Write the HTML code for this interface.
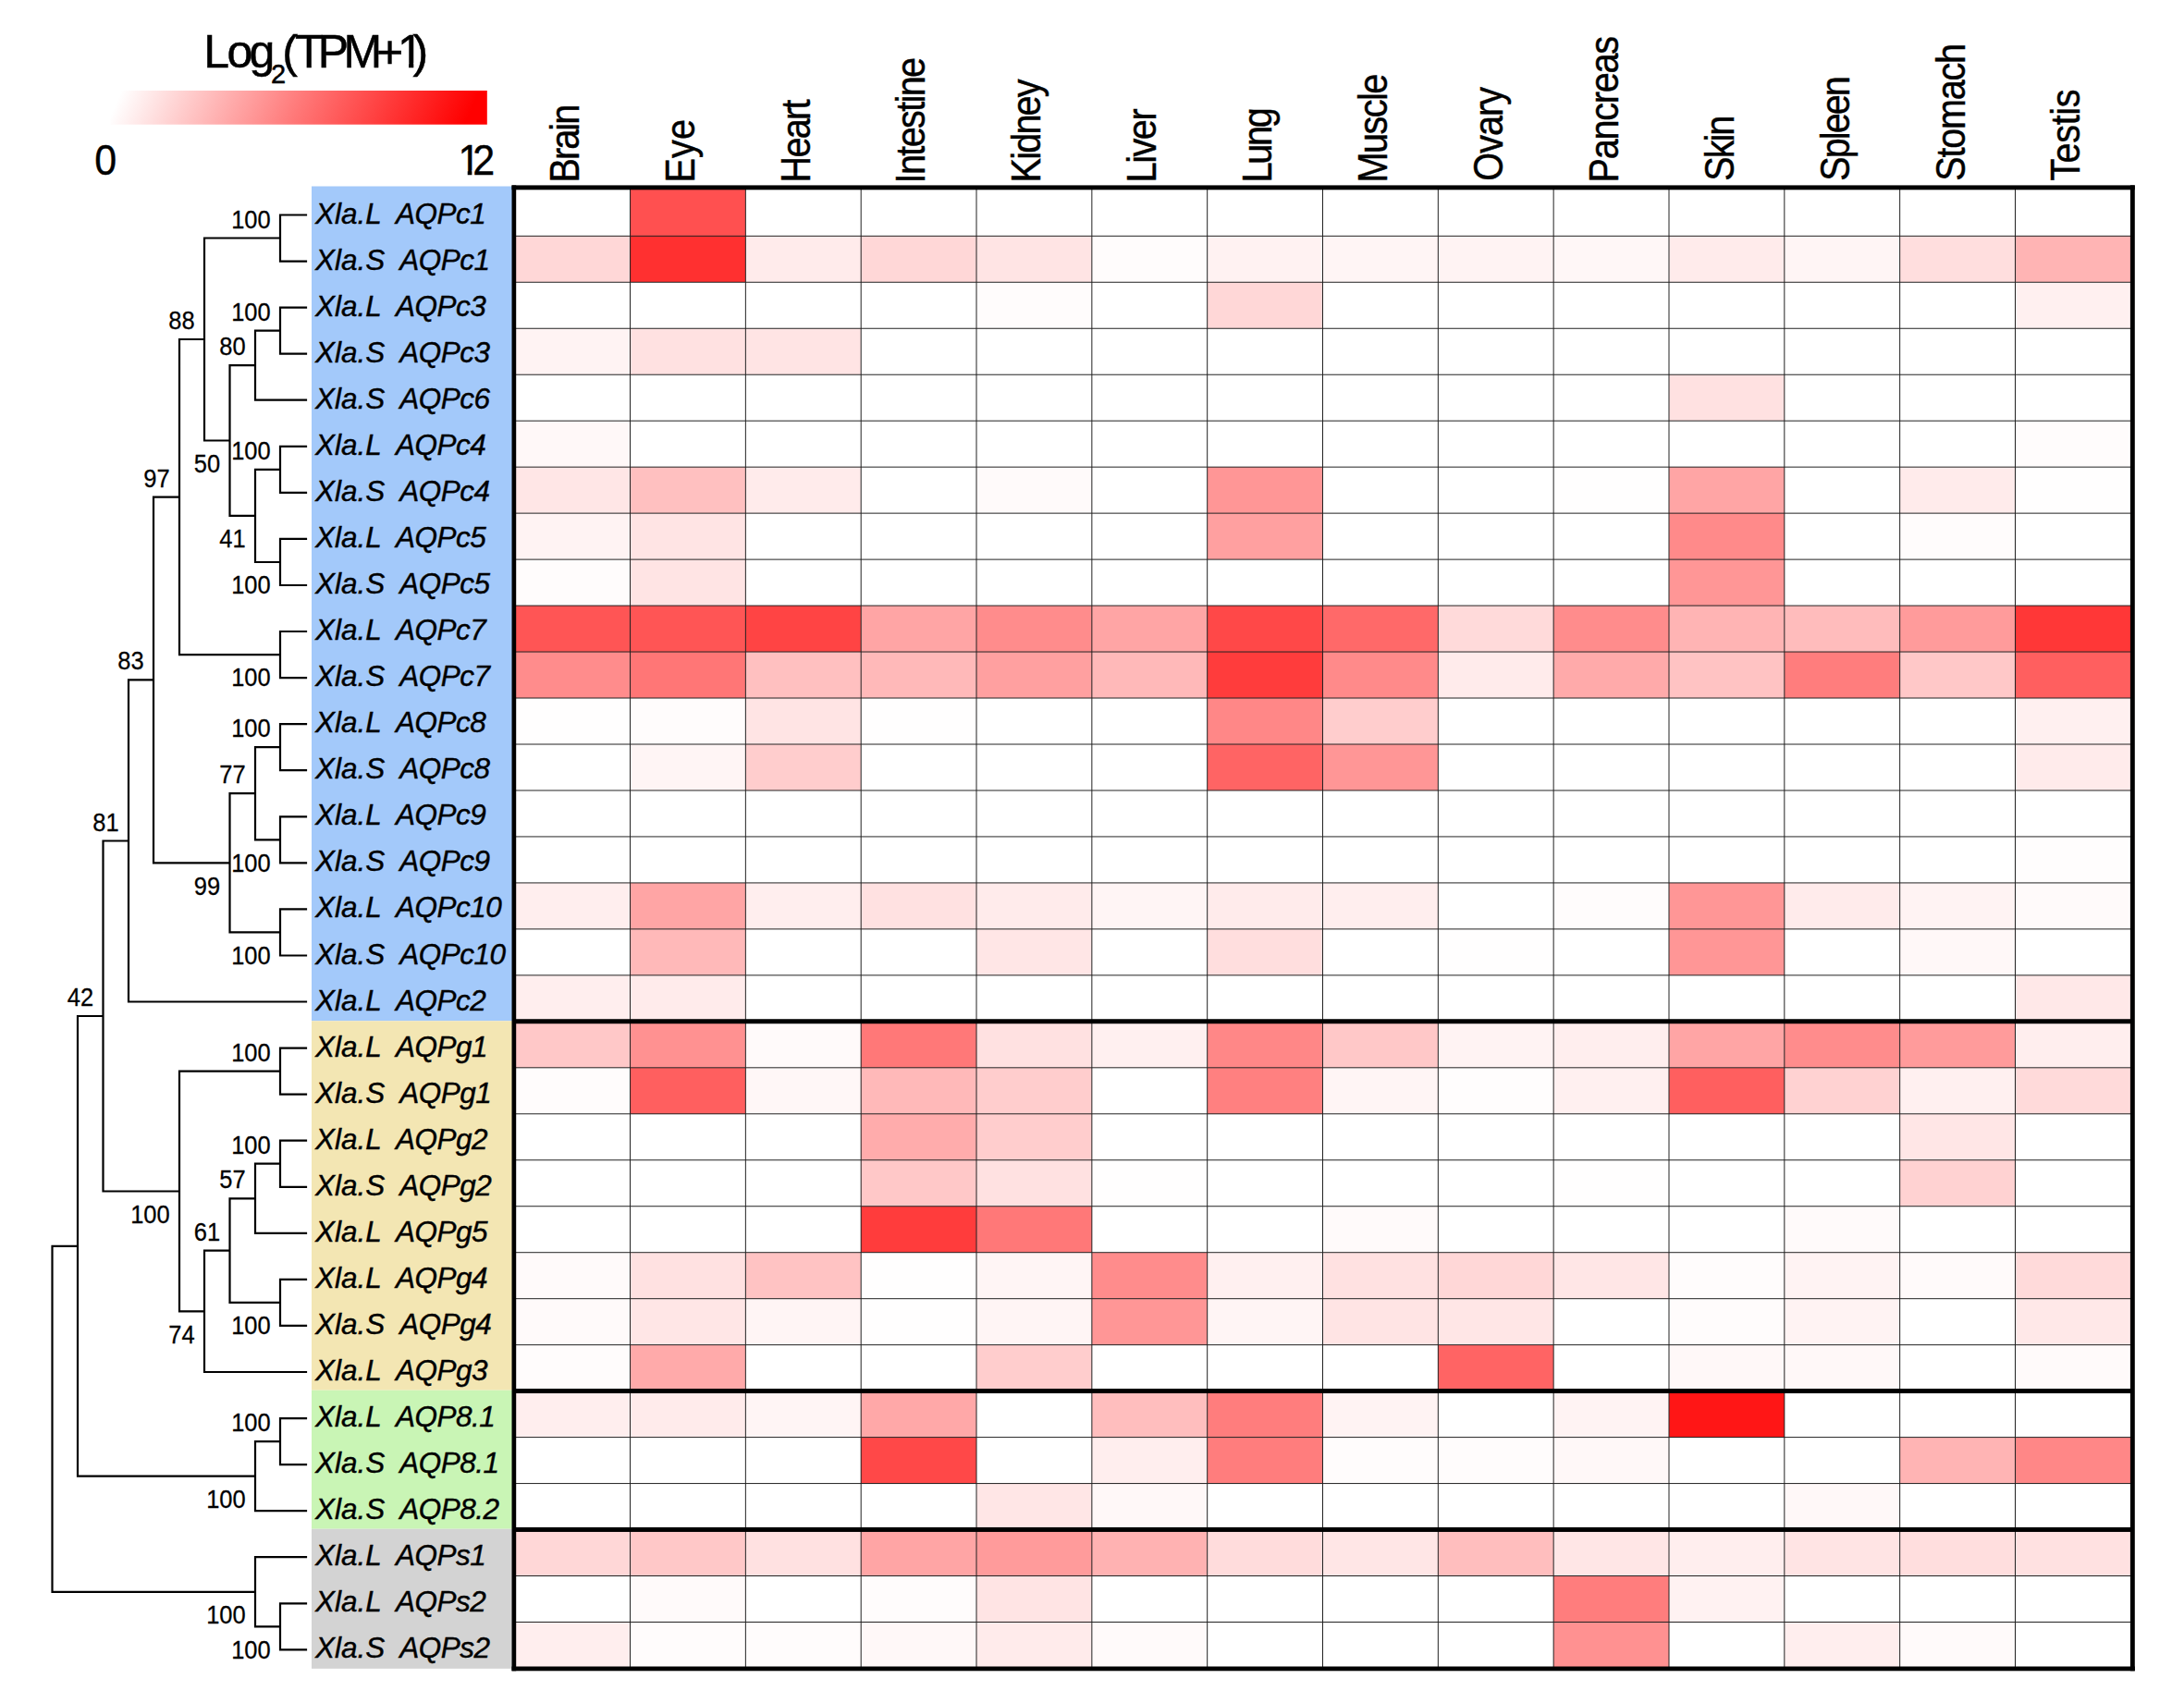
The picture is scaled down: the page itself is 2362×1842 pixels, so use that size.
<!DOCTYPE html>
<html lang="en"><head><meta charset="utf-8"><title>Xenopus laevis aquaporin expression heatmap</title>
<style>
html,body{margin:0;padding:0;background:#fff;}
body{width:2362px;height:1842px;overflow:hidden;}
svg{display:block;}
text{font-family:"Liberation Sans",sans-serif;fill:#000;}
.gene{font-style:italic;font-size:31.5px;word-spacing:7px;stroke:#000;stroke-width:0.4px;}
.boot{font-size:25.5px;text-anchor:end;stroke:#000;stroke-width:0.25px;}
.tissue{font-size:45px;stroke:#000;stroke-width:0.45px;}
.tree{fill:none;stroke:#000;stroke-width:2.2;stroke-linecap:square;stroke-linejoin:miter;}
.grid{stroke:#222;stroke-width:1;fill:none;}
</style></head><body>
<svg width="2362" height="1842" viewBox="0 0 2362 1842">
<defs><linearGradient id="lg" x1="0" y1="0.48" x2="1" y2="0.52"><stop offset="0.01" stop-color="#ffffff"/><stop offset="0.5" stop-color="#ff7878"/><stop offset="0.96" stop-color="#ff0000"/></linearGradient></defs>
<rect x="0" y="0" width="2362" height="1842" fill="#fff"/>
<g id="legend">
<rect x="119.6" y="98" width="407.2" height="36.7" fill="url(#lg)"/>
<g id="ttl" font-size="50" stroke="#000" stroke-width="0.5">
<text x="220.2 245.6 269.5" y="72.9">Log</text>
<text x="293" y="89.9" font-size="29">2</text>
<text x="305.2 319 343.7 371.4 407.1" y="72.9">(TPM+</text>
<text x="430.1" y="72.9">1</text>
<rect x="432" y="68.3" width="10.1" height="6" fill="#fff" stroke="none"/>
<rect x="447.3" y="68.3" width="10" height="6" fill="#fff" stroke="none"/>
<text x="446.6" y="72.9">)</text>
</g>
<text id="lo" transform="translate(102.2,188.7) scale(1,1.06)" font-size="43" stroke="#000" stroke-width="0.4">0</text>
<g id="hi" font-size="43" stroke="#000" stroke-width="0.4">
<text transform="translate(495.6,188.7) scale(1,1.06)">1</text>
<rect x="494" y="184.5" width="11.7" height="6" fill="#fff" stroke="none"/>
<rect x="510.4" y="184.5" width="9" height="6" fill="#fff" stroke="none"/>
<text transform="translate(511.3,188.7) scale(1,1.06)">2</text>
</g>
</g>
<g id="groups">
<rect x="337" y="201.5" width="219" height="902.8" fill="#a3c9fa"/>
<rect x="337" y="1104.3" width="219" height="399.4" fill="#f3e6b3"/>
<rect x="337" y="1503.7" width="219" height="150" fill="#c9f5b5"/>
<rect x="337" y="1653.7" width="219" height="151.1" fill="#d3d3d3"/>
</g>
<g id="cells" shape-rendering="crispEdges">
<rect x="681.53" y="205.33" width="124.83" height="49.97" fill="rgb(255,80,80)"/>
<rect x="556.70" y="255.30" width="124.83" height="49.97" fill="rgb(255,215,215)"/>
<rect x="681.53" y="255.30" width="124.83" height="49.97" fill="rgb(255,48,48)"/>
<rect x="806.36" y="255.30" width="124.83" height="49.97" fill="rgb(255,235,235)"/>
<rect x="931.19" y="255.30" width="124.83" height="49.97" fill="rgb(255,215,215)"/>
<rect x="1056.02" y="255.30" width="124.83" height="49.97" fill="rgb(255,228,228)"/>
<rect x="1180.85" y="255.30" width="124.83" height="49.97" fill="rgb(255,252,252)"/>
<rect x="1305.68" y="255.30" width="124.83" height="49.97" fill="rgb(255,242,242)"/>
<rect x="1430.51" y="255.30" width="124.83" height="49.97" fill="rgb(255,245,245)"/>
<rect x="1555.34" y="255.30" width="124.83" height="49.97" fill="rgb(255,243,243)"/>
<rect x="1680.17" y="255.30" width="124.83" height="49.97" fill="rgb(255,247,247)"/>
<rect x="1805.00" y="255.30" width="124.83" height="49.97" fill="rgb(255,235,235)"/>
<rect x="1929.83" y="255.30" width="124.83" height="49.97" fill="rgb(255,245,245)"/>
<rect x="2054.66" y="255.30" width="124.83" height="49.97" fill="rgb(255,222,222)"/>
<rect x="2179.49" y="255.30" width="124.83" height="49.97" fill="rgb(255,180,180)"/>
<rect x="1056.02" y="305.28" width="124.83" height="49.97" fill="rgb(255,252,252)"/>
<rect x="1305.68" y="305.28" width="124.83" height="49.97" fill="rgb(255,215,215)"/>
<rect x="2179.49" y="305.28" width="124.83" height="49.97" fill="rgb(255,240,240)"/>
<rect x="556.70" y="355.25" width="124.83" height="49.97" fill="rgb(255,243,243)"/>
<rect x="681.53" y="355.25" width="124.83" height="49.97" fill="rgb(255,225,225)"/>
<rect x="806.36" y="355.25" width="124.83" height="49.97" fill="rgb(255,228,228)"/>
<rect x="1805.00" y="405.22" width="124.83" height="49.97" fill="rgb(255,225,225)"/>
<rect x="556.70" y="455.20" width="124.83" height="49.97" fill="rgb(255,248,248)"/>
<rect x="2179.49" y="455.20" width="124.83" height="49.97" fill="rgb(255,252,252)"/>
<rect x="556.70" y="505.17" width="124.83" height="49.97" fill="rgb(255,230,230)"/>
<rect x="681.53" y="505.17" width="124.83" height="49.97" fill="rgb(255,192,192)"/>
<rect x="806.36" y="505.17" width="124.83" height="49.97" fill="rgb(255,235,235)"/>
<rect x="1056.02" y="505.17" width="124.83" height="49.97" fill="rgb(255,250,250)"/>
<rect x="1305.68" y="505.17" width="124.83" height="49.97" fill="rgb(255,150,150)"/>
<rect x="1680.17" y="505.17" width="124.83" height="49.97" fill="rgb(255,254,254)"/>
<rect x="1805.00" y="505.17" width="124.83" height="49.97" fill="rgb(255,165,165)"/>
<rect x="2054.66" y="505.17" width="124.83" height="49.97" fill="rgb(255,235,235)"/>
<rect x="2179.49" y="505.17" width="124.83" height="49.97" fill="rgb(255,254,254)"/>
<rect x="556.70" y="555.14" width="124.83" height="49.97" fill="rgb(255,243,243)"/>
<rect x="681.53" y="555.14" width="124.83" height="49.97" fill="rgb(255,228,228)"/>
<rect x="1305.68" y="555.14" width="124.83" height="49.97" fill="rgb(255,160,160)"/>
<rect x="1805.00" y="555.14" width="124.83" height="49.97" fill="rgb(255,138,138)"/>
<rect x="2054.66" y="555.14" width="124.83" height="49.97" fill="rgb(255,252,252)"/>
<rect x="556.70" y="605.11" width="124.83" height="49.97" fill="rgb(255,252,252)"/>
<rect x="681.53" y="605.11" width="124.83" height="49.97" fill="rgb(255,228,228)"/>
<rect x="1805.00" y="605.11" width="124.83" height="49.97" fill="rgb(255,150,150)"/>
<rect x="556.70" y="655.09" width="124.83" height="49.97" fill="rgb(255,85,85)"/>
<rect x="681.53" y="655.09" width="124.83" height="49.97" fill="rgb(255,85,85)"/>
<rect x="806.36" y="655.09" width="124.83" height="49.97" fill="rgb(255,68,68)"/>
<rect x="931.19" y="655.09" width="124.83" height="49.97" fill="rgb(255,165,165)"/>
<rect x="1056.02" y="655.09" width="124.83" height="49.97" fill="rgb(255,140,140)"/>
<rect x="1180.85" y="655.09" width="124.83" height="49.97" fill="rgb(255,165,165)"/>
<rect x="1305.68" y="655.09" width="124.83" height="49.97" fill="rgb(255,72,72)"/>
<rect x="1430.51" y="655.09" width="124.83" height="49.97" fill="rgb(255,105,105)"/>
<rect x="1555.34" y="655.09" width="124.83" height="49.97" fill="rgb(255,218,218)"/>
<rect x="1680.17" y="655.09" width="124.83" height="49.97" fill="rgb(255,140,140)"/>
<rect x="1805.00" y="655.09" width="124.83" height="49.97" fill="rgb(255,180,180)"/>
<rect x="1929.83" y="655.09" width="124.83" height="49.97" fill="rgb(255,188,188)"/>
<rect x="2054.66" y="655.09" width="124.83" height="49.97" fill="rgb(255,155,155)"/>
<rect x="2179.49" y="655.09" width="124.83" height="49.97" fill="rgb(255,55,55)"/>
<rect x="556.70" y="705.06" width="124.83" height="49.97" fill="rgb(255,140,140)"/>
<rect x="681.53" y="705.06" width="124.83" height="49.97" fill="rgb(255,118,118)"/>
<rect x="806.36" y="705.06" width="124.83" height="49.97" fill="rgb(255,192,192)"/>
<rect x="931.19" y="705.06" width="124.83" height="49.97" fill="rgb(255,185,185)"/>
<rect x="1056.02" y="705.06" width="124.83" height="49.97" fill="rgb(255,160,160)"/>
<rect x="1180.85" y="705.06" width="124.83" height="49.97" fill="rgb(255,185,185)"/>
<rect x="1305.68" y="705.06" width="124.83" height="49.97" fill="rgb(255,60,60)"/>
<rect x="1430.51" y="705.06" width="124.83" height="49.97" fill="rgb(255,138,138)"/>
<rect x="1555.34" y="705.06" width="124.83" height="49.97" fill="rgb(255,235,235)"/>
<rect x="1680.17" y="705.06" width="124.83" height="49.97" fill="rgb(255,170,170)"/>
<rect x="1805.00" y="705.06" width="124.83" height="49.97" fill="rgb(255,195,195)"/>
<rect x="1929.83" y="705.06" width="124.83" height="49.97" fill="rgb(255,125,125)"/>
<rect x="2054.66" y="705.06" width="124.83" height="49.97" fill="rgb(255,200,200)"/>
<rect x="2179.49" y="705.06" width="124.83" height="49.97" fill="rgb(255,95,95)"/>
<rect x="556.70" y="755.03" width="124.83" height="49.97" fill="rgb(255,254,254)"/>
<rect x="681.53" y="755.03" width="124.83" height="49.97" fill="rgb(255,252,252)"/>
<rect x="806.36" y="755.03" width="124.83" height="49.97" fill="rgb(255,228,228)"/>
<rect x="931.19" y="755.03" width="124.83" height="49.97" fill="rgb(255,254,254)"/>
<rect x="1305.68" y="755.03" width="124.83" height="49.97" fill="rgb(255,135,135)"/>
<rect x="1430.51" y="755.03" width="124.83" height="49.97" fill="rgb(255,205,205)"/>
<rect x="2179.49" y="755.03" width="124.83" height="49.97" fill="rgb(255,240,240)"/>
<rect x="681.53" y="805.01" width="124.83" height="49.97" fill="rgb(255,245,245)"/>
<rect x="806.36" y="805.01" width="124.83" height="49.97" fill="rgb(255,205,205)"/>
<rect x="1305.68" y="805.01" width="124.83" height="49.97" fill="rgb(255,100,100)"/>
<rect x="1430.51" y="805.01" width="124.83" height="49.97" fill="rgb(255,150,150)"/>
<rect x="2179.49" y="805.01" width="124.83" height="49.97" fill="rgb(255,235,235)"/>
<rect x="2179.49" y="904.95" width="124.83" height="49.97" fill="rgb(255,253,253)"/>
<rect x="556.70" y="954.93" width="124.83" height="49.97" fill="rgb(255,238,238)"/>
<rect x="681.53" y="954.93" width="124.83" height="49.97" fill="rgb(255,165,165)"/>
<rect x="806.36" y="954.93" width="124.83" height="49.97" fill="rgb(255,238,238)"/>
<rect x="931.19" y="954.93" width="124.83" height="49.97" fill="rgb(255,225,225)"/>
<rect x="1056.02" y="954.93" width="124.83" height="49.97" fill="rgb(255,235,235)"/>
<rect x="1180.85" y="954.93" width="124.83" height="49.97" fill="rgb(255,245,245)"/>
<rect x="1305.68" y="954.93" width="124.83" height="49.97" fill="rgb(255,235,235)"/>
<rect x="1430.51" y="954.93" width="124.83" height="49.97" fill="rgb(255,238,238)"/>
<rect x="1680.17" y="954.93" width="124.83" height="49.97" fill="rgb(255,252,252)"/>
<rect x="1805.00" y="954.93" width="124.83" height="49.97" fill="rgb(255,150,150)"/>
<rect x="1929.83" y="954.93" width="124.83" height="49.97" fill="rgb(255,235,235)"/>
<rect x="2054.66" y="954.93" width="124.83" height="49.97" fill="rgb(255,243,243)"/>
<rect x="2179.49" y="954.93" width="124.83" height="49.97" fill="rgb(255,250,250)"/>
<rect x="681.53" y="1004.90" width="124.83" height="49.97" fill="rgb(255,185,185)"/>
<rect x="1056.02" y="1004.90" width="124.83" height="49.97" fill="rgb(255,230,230)"/>
<rect x="1305.68" y="1004.90" width="124.83" height="49.97" fill="rgb(255,222,222)"/>
<rect x="1555.34" y="1004.90" width="124.83" height="49.97" fill="rgb(255,254,254)"/>
<rect x="1805.00" y="1004.90" width="124.83" height="49.97" fill="rgb(255,150,150)"/>
<rect x="2054.66" y="1004.90" width="124.83" height="49.97" fill="rgb(255,248,248)"/>
<rect x="556.70" y="1054.87" width="124.83" height="49.97" fill="rgb(255,238,238)"/>
<rect x="681.53" y="1054.87" width="124.83" height="49.97" fill="rgb(255,235,235)"/>
<rect x="2179.49" y="1054.87" width="124.83" height="49.97" fill="rgb(255,232,232)"/>
<rect x="556.70" y="1104.84" width="124.83" height="49.97" fill="rgb(255,200,200)"/>
<rect x="681.53" y="1104.84" width="124.83" height="49.97" fill="rgb(255,145,145)"/>
<rect x="806.36" y="1104.84" width="124.83" height="49.97" fill="rgb(255,250,250)"/>
<rect x="931.19" y="1104.84" width="124.83" height="49.97" fill="rgb(255,120,120)"/>
<rect x="1056.02" y="1104.84" width="124.83" height="49.97" fill="rgb(255,225,225)"/>
<rect x="1180.85" y="1104.84" width="124.83" height="49.97" fill="rgb(255,240,240)"/>
<rect x="1305.68" y="1104.84" width="124.83" height="49.97" fill="rgb(255,135,135)"/>
<rect x="1430.51" y="1104.84" width="124.83" height="49.97" fill="rgb(255,200,200)"/>
<rect x="1555.34" y="1104.84" width="124.83" height="49.97" fill="rgb(255,243,243)"/>
<rect x="1680.17" y="1104.84" width="124.83" height="49.97" fill="rgb(255,238,238)"/>
<rect x="1805.00" y="1104.84" width="124.83" height="49.97" fill="rgb(255,165,165)"/>
<rect x="1929.83" y="1104.84" width="124.83" height="49.97" fill="rgb(255,140,140)"/>
<rect x="2054.66" y="1104.84" width="124.83" height="49.97" fill="rgb(255,155,155)"/>
<rect x="2179.49" y="1104.84" width="124.83" height="49.97" fill="rgb(255,238,238)"/>
<rect x="556.70" y="1154.82" width="124.83" height="49.97" fill="rgb(255,252,252)"/>
<rect x="681.53" y="1154.82" width="124.83" height="49.97" fill="rgb(255,95,95)"/>
<rect x="806.36" y="1154.82" width="124.83" height="49.97" fill="rgb(255,247,247)"/>
<rect x="931.19" y="1154.82" width="124.83" height="49.97" fill="rgb(255,185,185)"/>
<rect x="1056.02" y="1154.82" width="124.83" height="49.97" fill="rgb(255,205,205)"/>
<rect x="1305.68" y="1154.82" width="124.83" height="49.97" fill="rgb(255,128,128)"/>
<rect x="1430.51" y="1154.82" width="124.83" height="49.97" fill="rgb(255,245,245)"/>
<rect x="1555.34" y="1154.82" width="124.83" height="49.97" fill="rgb(255,253,253)"/>
<rect x="1680.17" y="1154.82" width="124.83" height="49.97" fill="rgb(255,240,240)"/>
<rect x="1805.00" y="1154.82" width="124.83" height="49.97" fill="rgb(255,95,95)"/>
<rect x="1929.83" y="1154.82" width="124.83" height="49.97" fill="rgb(255,210,210)"/>
<rect x="2054.66" y="1154.82" width="124.83" height="49.97" fill="rgb(255,240,240)"/>
<rect x="2179.49" y="1154.82" width="124.83" height="49.97" fill="rgb(255,218,218)"/>
<rect x="931.19" y="1204.79" width="124.83" height="49.97" fill="rgb(255,172,172)"/>
<rect x="1056.02" y="1204.79" width="124.83" height="49.97" fill="rgb(255,205,205)"/>
<rect x="2054.66" y="1204.79" width="124.83" height="49.97" fill="rgb(255,230,230)"/>
<rect x="931.19" y="1254.76" width="124.83" height="49.97" fill="rgb(255,200,200)"/>
<rect x="1056.02" y="1254.76" width="124.83" height="49.97" fill="rgb(255,225,225)"/>
<rect x="1180.85" y="1254.76" width="124.83" height="49.97" fill="rgb(255,254,254)"/>
<rect x="1680.17" y="1254.76" width="124.83" height="49.97" fill="rgb(255,254,254)"/>
<rect x="2054.66" y="1254.76" width="124.83" height="49.97" fill="rgb(255,210,210)"/>
<rect x="931.19" y="1304.74" width="124.83" height="49.97" fill="rgb(255,60,60)"/>
<rect x="1056.02" y="1304.74" width="124.83" height="49.97" fill="rgb(255,120,120)"/>
<rect x="1430.51" y="1304.74" width="124.83" height="49.97" fill="rgb(255,250,250)"/>
<rect x="1929.83" y="1304.74" width="124.83" height="49.97" fill="rgb(255,250,250)"/>
<rect x="556.70" y="1354.71" width="124.83" height="49.97" fill="rgb(255,250,250)"/>
<rect x="681.53" y="1354.71" width="124.83" height="49.97" fill="rgb(255,225,225)"/>
<rect x="806.36" y="1354.71" width="124.83" height="49.97" fill="rgb(255,195,195)"/>
<rect x="931.19" y="1354.71" width="124.83" height="49.97" fill="rgb(255,254,254)"/>
<rect x="1056.02" y="1354.71" width="124.83" height="49.97" fill="rgb(255,245,245)"/>
<rect x="1180.85" y="1354.71" width="124.83" height="49.97" fill="rgb(255,140,140)"/>
<rect x="1305.68" y="1354.71" width="124.83" height="49.97" fill="rgb(255,240,240)"/>
<rect x="1430.51" y="1354.71" width="124.83" height="49.97" fill="rgb(255,225,225)"/>
<rect x="1555.34" y="1354.71" width="124.83" height="49.97" fill="rgb(255,215,215)"/>
<rect x="1680.17" y="1354.71" width="124.83" height="49.97" fill="rgb(255,230,230)"/>
<rect x="1805.00" y="1354.71" width="124.83" height="49.97" fill="rgb(255,252,252)"/>
<rect x="1929.83" y="1354.71" width="124.83" height="49.97" fill="rgb(255,243,243)"/>
<rect x="2054.66" y="1354.71" width="124.83" height="49.97" fill="rgb(255,250,250)"/>
<rect x="2179.49" y="1354.71" width="124.83" height="49.97" fill="rgb(255,218,218)"/>
<rect x="556.70" y="1404.68" width="124.83" height="49.97" fill="rgb(255,250,250)"/>
<rect x="681.53" y="1404.68" width="124.83" height="49.97" fill="rgb(255,230,230)"/>
<rect x="806.36" y="1404.68" width="124.83" height="49.97" fill="rgb(255,245,245)"/>
<rect x="931.19" y="1404.68" width="124.83" height="49.97" fill="rgb(255,254,254)"/>
<rect x="1056.02" y="1404.68" width="124.83" height="49.97" fill="rgb(255,245,245)"/>
<rect x="1180.85" y="1404.68" width="124.83" height="49.97" fill="rgb(255,150,150)"/>
<rect x="1305.68" y="1404.68" width="124.83" height="49.97" fill="rgb(255,245,245)"/>
<rect x="1430.51" y="1404.68" width="124.83" height="49.97" fill="rgb(255,228,228)"/>
<rect x="1555.34" y="1404.68" width="124.83" height="49.97" fill="rgb(255,230,230)"/>
<rect x="1805.00" y="1404.68" width="124.83" height="49.97" fill="rgb(255,252,252)"/>
<rect x="1929.83" y="1404.68" width="124.83" height="49.97" fill="rgb(255,243,243)"/>
<rect x="2179.49" y="1404.68" width="124.83" height="49.97" fill="rgb(255,232,232)"/>
<rect x="556.70" y="1454.65" width="124.83" height="49.97" fill="rgb(255,252,252)"/>
<rect x="681.53" y="1454.65" width="124.83" height="49.97" fill="rgb(255,170,170)"/>
<rect x="1056.02" y="1454.65" width="124.83" height="49.97" fill="rgb(255,205,205)"/>
<rect x="1555.34" y="1454.65" width="124.83" height="49.97" fill="rgb(255,100,100)"/>
<rect x="1805.00" y="1454.65" width="124.83" height="49.97" fill="rgb(255,248,248)"/>
<rect x="1929.83" y="1454.65" width="124.83" height="49.97" fill="rgb(255,248,248)"/>
<rect x="2179.49" y="1454.65" width="124.83" height="49.97" fill="rgb(255,250,250)"/>
<rect x="556.70" y="1504.63" width="124.83" height="49.97" fill="rgb(255,238,238)"/>
<rect x="681.53" y="1504.63" width="124.83" height="49.97" fill="rgb(255,235,235)"/>
<rect x="806.36" y="1504.63" width="124.83" height="49.97" fill="rgb(255,245,245)"/>
<rect x="931.19" y="1504.63" width="124.83" height="49.97" fill="rgb(255,168,168)"/>
<rect x="1180.85" y="1504.63" width="124.83" height="49.97" fill="rgb(255,190,190)"/>
<rect x="1305.68" y="1504.63" width="124.83" height="49.97" fill="rgb(255,125,125)"/>
<rect x="1430.51" y="1504.63" width="124.83" height="49.97" fill="rgb(255,243,243)"/>
<rect x="1680.17" y="1504.63" width="124.83" height="49.97" fill="rgb(255,243,243)"/>
<rect x="1805.00" y="1504.63" width="124.83" height="49.97" fill="rgb(255,22,22)"/>
<rect x="931.19" y="1554.60" width="124.83" height="49.97" fill="rgb(255,72,72)"/>
<rect x="1180.85" y="1554.60" width="124.83" height="49.97" fill="rgb(255,238,238)"/>
<rect x="1305.68" y="1554.60" width="124.83" height="49.97" fill="rgb(255,125,125)"/>
<rect x="1430.51" y="1554.60" width="124.83" height="49.97" fill="rgb(255,252,252)"/>
<rect x="1555.34" y="1554.60" width="124.83" height="49.97" fill="rgb(255,252,252)"/>
<rect x="1680.17" y="1554.60" width="124.83" height="49.97" fill="rgb(255,248,248)"/>
<rect x="2054.66" y="1554.60" width="124.83" height="49.97" fill="rgb(255,180,180)"/>
<rect x="2179.49" y="1554.60" width="124.83" height="49.97" fill="rgb(255,135,135)"/>
<rect x="1056.02" y="1604.57" width="124.83" height="49.97" fill="rgb(255,230,230)"/>
<rect x="1180.85" y="1604.57" width="124.83" height="49.97" fill="rgb(255,248,248)"/>
<rect x="1929.83" y="1604.57" width="124.83" height="49.97" fill="rgb(255,248,248)"/>
<rect x="556.70" y="1654.55" width="124.83" height="49.97" fill="rgb(255,215,215)"/>
<rect x="681.53" y="1654.55" width="124.83" height="49.97" fill="rgb(255,200,200)"/>
<rect x="806.36" y="1654.55" width="124.83" height="49.97" fill="rgb(255,225,225)"/>
<rect x="931.19" y="1654.55" width="124.83" height="49.97" fill="rgb(255,165,165)"/>
<rect x="1056.02" y="1654.55" width="124.83" height="49.97" fill="rgb(255,155,155)"/>
<rect x="1180.85" y="1654.55" width="124.83" height="49.97" fill="rgb(255,178,178)"/>
<rect x="1305.68" y="1654.55" width="124.83" height="49.97" fill="rgb(255,220,220)"/>
<rect x="1430.51" y="1654.55" width="124.83" height="49.97" fill="rgb(255,230,230)"/>
<rect x="1555.34" y="1654.55" width="124.83" height="49.97" fill="rgb(255,190,190)"/>
<rect x="1680.17" y="1654.55" width="124.83" height="49.97" fill="rgb(255,230,230)"/>
<rect x="1805.00" y="1654.55" width="124.83" height="49.97" fill="rgb(255,238,238)"/>
<rect x="1929.83" y="1654.55" width="124.83" height="49.97" fill="rgb(255,228,228)"/>
<rect x="2054.66" y="1654.55" width="124.83" height="49.97" fill="rgb(255,222,222)"/>
<rect x="2179.49" y="1654.55" width="124.83" height="49.97" fill="rgb(255,225,225)"/>
<rect x="681.53" y="1704.52" width="124.83" height="49.97" fill="rgb(255,250,250)"/>
<rect x="931.19" y="1704.52" width="124.83" height="49.97" fill="rgb(255,252,252)"/>
<rect x="1056.02" y="1704.52" width="124.83" height="49.97" fill="rgb(255,228,228)"/>
<rect x="1680.17" y="1704.52" width="124.83" height="49.97" fill="rgb(255,125,125)"/>
<rect x="1805.00" y="1704.52" width="124.83" height="49.97" fill="rgb(255,242,242)"/>
<rect x="556.70" y="1754.49" width="124.83" height="49.97" fill="rgb(255,238,238)"/>
<rect x="681.53" y="1754.49" width="124.83" height="49.97" fill="rgb(255,252,252)"/>
<rect x="806.36" y="1754.49" width="124.83" height="49.97" fill="rgb(255,252,252)"/>
<rect x="931.19" y="1754.49" width="124.83" height="49.97" fill="rgb(255,248,248)"/>
<rect x="1056.02" y="1754.49" width="124.83" height="49.97" fill="rgb(255,235,235)"/>
<rect x="1180.85" y="1754.49" width="124.83" height="49.97" fill="rgb(255,250,250)"/>
<rect x="1680.17" y="1754.49" width="124.83" height="49.97" fill="rgb(255,145,145)"/>
<rect x="1929.83" y="1754.49" width="124.83" height="49.97" fill="rgb(255,238,238)"/>
<rect x="2054.66" y="1754.49" width="124.83" height="49.97" fill="rgb(255,250,250)"/>
</g>
<g id="grid" class="grid">
<path d="M681.53 203V1805M806.36 203V1805M931.19 203V1805M1056.02 203V1805M1180.85 203V1805M1305.68 203V1805M1430.51 203V1805M1555.34 203V1805M1680.17 203V1805M1805.00 203V1805M1929.83 203V1805M2054.66 203V1805M2179.49 203V1805M556 255.30H2306M556 305.28H2306M556 355.25H2306M556 405.22H2306M556 455.20H2306M556 505.17H2306M556 555.14H2306M556 605.11H2306M556 655.09H2306M556 705.06H2306M556 755.03H2306M556 805.01H2306M556 854.98H2306M556 904.95H2306M556 954.93H2306M556 1004.90H2306M556 1054.87H2306M556 1104.84H2306M556 1154.82H2306M556 1204.79H2306M556 1254.76H2306M556 1304.74H2306M556 1354.71H2306M556 1404.68H2306M556 1454.65H2306M556 1504.63H2306M556 1554.60H2306M556 1604.57H2306M556 1654.55H2306M556 1704.52H2306M556 1754.49H2306"/>
</g>
<g id="frame" fill="#000">
<rect x="553.5" y="200.4" width="1755.3" height="4.9"/>
<rect x="553.5" y="1802.5" width="1755.3" height="4.8"/>
<rect x="553.5" y="200.4" width="4.7" height="1606.9"/>
<rect x="2303.9" y="200.4" width="4.9" height="1606.9"/>
<rect x="556" y="1102.24" width="1750" height="5"/>
<rect x="556" y="1502.03" width="1750" height="5"/>
<rect x="556" y="1651.95" width="1750" height="5"/>
</g>
<g id="tissues">
<text class="tissue" id="t0" transform="translate(625.7,197.4) rotate(-90) scale(0.88,1)" letter-spacing="-2.23">Brain</text>
<text class="tissue" id="t1" transform="translate(750.6,197.4) rotate(-90) scale(0.88,1)" letter-spacing="0.13">Eye</text>
<text class="tissue" id="t2" transform="translate(875.5,197.4) rotate(-90) scale(0.88,1)" letter-spacing="-1.95">Heart</text>
<text class="tissue" id="t3" transform="translate(1000.4,198.4) rotate(-90) scale(0.88,1)" letter-spacing="-1.87">Intestine</text>
<text class="tissue" id="t4" transform="translate(1125.3,197.4) rotate(-90) scale(0.88,1)" letter-spacing="-2.05">Kidney</text>
<text class="tissue" id="t5" transform="translate(1250.2,197.4) rotate(-90) scale(0.88,1)" letter-spacing="-1.66">Liver</text>
<text class="tissue" id="t6" transform="translate(1375.1,197.4) rotate(-90) scale(0.88,1)" letter-spacing="-2.59">Lung</text>
<text class="tissue" id="t7" transform="translate(1500.0,197.4) rotate(-90) scale(0.88,1)" letter-spacing="-1.75">Muscle</text>
<text class="tissue" id="t8" transform="translate(1624.9,195.7) rotate(-90) scale(0.88,1)" letter-spacing="-1.09">Ovary</text>
<text class="tissue" id="t9" transform="translate(1749.8,197.4) rotate(-90) scale(0.88,1)" letter-spacing="-1.41">Pancreas</text>
<text class="tissue" id="t10" transform="translate(1874.7,195.7) rotate(-90) scale(0.88,1)" letter-spacing="-2.30">Skin</text>
<text class="tissue" id="t11" transform="translate(1999.6,195.7) rotate(-90) scale(0.88,1)" letter-spacing="-2.23">Spleen</text>
<text class="tissue" id="t12" transform="translate(2124.5,195.7) rotate(-90) scale(0.88,1)" letter-spacing="-1.43">Stomach</text>
<text class="tissue" id="t13" transform="translate(2249.4,195.8) rotate(-90) scale(0.88,1)" letter-spacing="-0.42">Testis</text>
</g>
<g id="genes">
<text class="gene" id="g0" x="341.1" y="241.5">Xla.L <tspan letter-spacing="-0.5">AQPc1</tspan></text>
<text class="gene" id="g1" x="341.1" y="291.6">Xla.S <tspan letter-spacing="-0.5">AQPc1</tspan></text>
<text class="gene" id="g2" x="341.1" y="341.6">Xla.L <tspan letter-spacing="-0.5">AQPc3</tspan></text>
<text class="gene" id="g3" x="341.1" y="391.7">Xla.S <tspan letter-spacing="-0.5">AQPc3</tspan></text>
<text class="gene" id="g4" x="341.1" y="441.7">Xla.S <tspan letter-spacing="-0.5">AQPc6</tspan></text>
<text class="gene" id="g5" x="341.1" y="491.8">Xla.L <tspan letter-spacing="-0.5">AQPc4</tspan></text>
<text class="gene" id="g6" x="341.1" y="541.9">Xla.S <tspan letter-spacing="-0.5">AQPc4</tspan></text>
<text class="gene" id="g7" x="341.1" y="591.9">Xla.L <tspan letter-spacing="-0.5">AQPc5</tspan></text>
<text class="gene" id="g8" x="341.1" y="642.0">Xla.S <tspan letter-spacing="-0.5">AQPc5</tspan></text>
<text class="gene" id="g9" x="341.1" y="692.0">Xla.L <tspan letter-spacing="-0.5">AQPc7</tspan></text>
<text class="gene" id="g10" x="341.1" y="742.1">Xla.S <tspan letter-spacing="-0.5">AQPc7</tspan></text>
<text class="gene" id="g11" x="341.1" y="792.2">Xla.L <tspan letter-spacing="-0.5">AQPc8</tspan></text>
<text class="gene" id="g12" x="341.1" y="842.2">Xla.S <tspan letter-spacing="-0.5">AQPc8</tspan></text>
<text class="gene" id="g13" x="341.1" y="892.3">Xla.L <tspan letter-spacing="-0.5">AQPc9</tspan></text>
<text class="gene" id="g14" x="341.1" y="942.3">Xla.S <tspan letter-spacing="-0.5">AQPc9</tspan></text>
<text class="gene" id="g15" x="341.1" y="992.4">Xla.L <tspan letter-spacing="-0.5">AQPc10</tspan></text>
<text class="gene" id="g16" x="341.1" y="1042.5">Xla.S <tspan letter-spacing="-0.5">AQPc10</tspan></text>
<text class="gene" id="g17" x="341.1" y="1092.5">Xla.L <tspan letter-spacing="-0.5">AQPc2</tspan></text>
<text class="gene" id="g18" x="341.1" y="1142.6">Xla.L <tspan letter-spacing="-0.5">AQPg1</tspan></text>
<text class="gene" id="g19" x="341.1" y="1192.6">Xla.S <tspan letter-spacing="-0.5">AQPg1</tspan></text>
<text class="gene" id="g20" x="341.1" y="1242.7">Xla.L <tspan letter-spacing="-0.5">AQPg2</tspan></text>
<text class="gene" id="g21" x="341.1" y="1292.8">Xla.S <tspan letter-spacing="-0.5">AQPg2</tspan></text>
<text class="gene" id="g22" x="341.1" y="1342.8">Xla.L <tspan letter-spacing="-0.5">AQPg5</tspan></text>
<text class="gene" id="g23" x="341.1" y="1392.9">Xla.L <tspan letter-spacing="-0.5">AQPg4</tspan></text>
<text class="gene" id="g24" x="341.1" y="1442.9">Xla.S <tspan letter-spacing="-0.5">AQPg4</tspan></text>
<text class="gene" id="g25" x="341.1" y="1493.0">Xla.L <tspan letter-spacing="-0.5">AQPg3</tspan></text>
<text class="gene" id="g26" x="341.1" y="1543.1">Xla.L <tspan letter-spacing="-0.5">AQP8.1</tspan></text>
<text class="gene" id="g27" x="341.1" y="1593.1">Xla.S <tspan letter-spacing="-0.5">AQP8.1</tspan></text>
<text class="gene" id="g28" x="341.1" y="1643.2">Xla.S <tspan letter-spacing="-0.5">AQP8.2</tspan></text>
<text class="gene" id="g29" x="341.1" y="1693.2">Xla.L <tspan letter-spacing="-0.5">AQPs1</tspan></text>
<text class="gene" id="g30" x="341.1" y="1743.3">Xla.L <tspan letter-spacing="-0.5">AQPs2</tspan></text>
<text class="gene" id="g31" x="341.1" y="1793.4">Xla.S <tspan letter-spacing="-0.5">AQPs2</tspan></text>
</g>
<g id="tree"><path class="tree" d="M56.5 1347.8V1721.8M56.5 1347.8H84.0M84.0 1099.0V1596.6M84.0 1099.0H111.5M111.5 909.5V1288.5M111.5 909.5H139.0M139.0 735.4V1083.5M139.0 735.4H166.0M166.0 537.6V933.3M166.0 537.6H194.0M194.0 367.0V708.1M194.0 367.0H221.0M221.0 257.5V476.5M221.0 257.5H303.0M303.0 232.5V282.6M303.0 232.5H331.0M303.0 282.6H331.0M221.0 476.5H248.5M248.5 395.2V557.9M248.5 395.2H276.0M276.0 357.6V432.7M276.0 357.6H303.0M303.0 332.6V382.7M303.0 332.6H331.0M303.0 382.7H331.0M276.0 432.7H331.0M248.5 557.9H276.0M276.0 507.8V608.0M276.0 507.8H303.0M303.0 482.8V532.9M303.0 482.8H331.0M303.0 532.9H331.0M276.0 608.0H303.0M303.0 582.9V633.0M303.0 582.9H331.0M303.0 633.0H331.0M194.0 708.1H303.0M303.0 683.0V733.1M303.0 683.0H331.0M303.0 733.1H331.0M166.0 933.3H248.5M248.5 858.2V1008.4M248.5 858.2H276.0M276.0 808.2V908.3M276.0 808.2H303.0M303.0 783.2V833.2M303.0 783.2H331.0M303.0 833.2H331.0M276.0 908.3H303.0M303.0 883.3V933.3M303.0 883.3H331.0M303.0 933.3H331.0M248.5 1008.4H303.0M303.0 983.4V1033.5M303.0 983.4H331.0M303.0 1033.5H331.0M139.0 1083.5H331.0M111.5 1288.5H194.0M194.0 1158.6V1418.3M194.0 1158.6H303.0M303.0 1133.6V1183.6M303.0 1133.6H331.0M303.0 1183.6H331.0M194.0 1418.3H221.0M221.0 1352.6V1484.0M221.0 1352.6H248.5M248.5 1296.3V1408.9M248.5 1296.3H276.0M276.0 1258.7V1333.8M276.0 1258.7H303.0M303.0 1233.7V1283.8M303.0 1233.7H331.0M303.0 1283.8H331.0M276.0 1333.8H331.0M248.5 1408.9H303.0M303.0 1383.9V1433.9M303.0 1383.9H331.0M303.0 1433.9H331.0M221.0 1484.0H331.0M84.0 1596.6H276.0M276.0 1559.1V1634.2M276.0 1559.1H303.0M303.0 1534.1V1584.1M303.0 1534.1H331.0M303.0 1584.1H331.0M276.0 1634.2H331.0M56.5 1721.8H276.0M276.0 1684.2V1759.3M276.0 1684.2H331.0M276.0 1759.3H303.0M303.0 1734.3V1784.4M303.0 1734.3H331.0M303.0 1784.4H331.0"/>
<text class="boot" transform="translate(101.2,1088.0) scale(1,1.07)">42</text>
<text class="boot" transform="translate(128.7,898.5) scale(1,1.07)">81</text>
<text class="boot" transform="translate(155.7,724.4) scale(1,1.07)">83</text>
<text class="boot" transform="translate(183.7,526.6) scale(1,1.07)">97</text>
<text class="boot" transform="translate(210.7,356.0) scale(1,1.07)">88</text>
<text class="boot" transform="translate(292.7,246.5) scale(1,1.07)">100</text>
<text class="boot" transform="translate(238.2,510.7) scale(1,1.07)">50</text>
<text class="boot" transform="translate(265.7,384.2) scale(1,1.07)">80</text>
<text class="boot" transform="translate(292.7,346.6) scale(1,1.07)">100</text>
<text class="boot" transform="translate(265.7,592.1) scale(1,1.07)">41</text>
<text class="boot" transform="translate(292.7,496.8) scale(1,1.07)">100</text>
<text class="boot" transform="translate(292.7,642.2) scale(1,1.07)">100</text>
<text class="boot" transform="translate(292.7,742.3) scale(1,1.07)">100</text>
<text class="boot" transform="translate(238.2,967.5) scale(1,1.07)">99</text>
<text class="boot" transform="translate(265.7,847.2) scale(1,1.07)">77</text>
<text class="boot" transform="translate(292.7,797.2) scale(1,1.07)">100</text>
<text class="boot" transform="translate(292.7,942.5) scale(1,1.07)">100</text>
<text class="boot" transform="translate(292.7,1042.6) scale(1,1.07)">100</text>
<text class="boot" transform="translate(183.7,1322.7) scale(1,1.07)">100</text>
<text class="boot" transform="translate(292.7,1147.6) scale(1,1.07)">100</text>
<text class="boot" transform="translate(210.7,1452.5) scale(1,1.07)">74</text>
<text class="boot" transform="translate(238.2,1341.6) scale(1,1.07)">61</text>
<text class="boot" transform="translate(265.7,1285.3) scale(1,1.07)">57</text>
<text class="boot" transform="translate(292.7,1247.7) scale(1,1.07)">100</text>
<text class="boot" transform="translate(292.7,1443.1) scale(1,1.07)">100</text>
<text class="boot" transform="translate(265.7,1630.8) scale(1,1.07)">100</text>
<text class="boot" transform="translate(292.7,1548.1) scale(1,1.07)">100</text>
<text class="boot" transform="translate(265.7,1756.0) scale(1,1.07)">100</text>
<text class="boot" transform="translate(292.7,1793.5) scale(1,1.07)">100</text>
</g>
</svg></body></html>
